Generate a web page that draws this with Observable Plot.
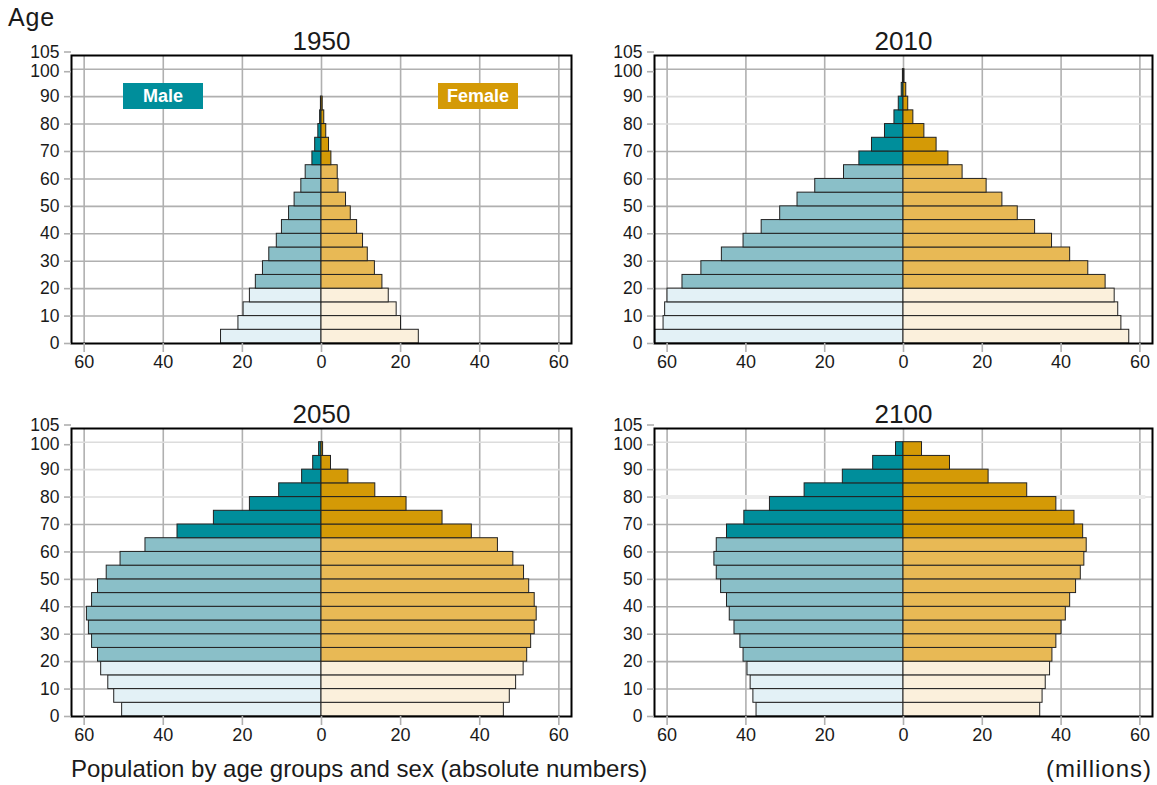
<!DOCTYPE html>
<html>
<head>
<meta charset="utf-8">
<script src="https://cdn.jsdelivr.net/npm/d3@7"></script>
<script src="https://cdn.jsdelivr.net/npm/@observablehq/plot@0.6"></script>
<style>
  html, body { margin: 0; padding: 0; background: #fff; }
  #root { position: relative; width: 1157px; height: 785px; overflow: hidden; font-family: "Liberation Sans", Arial, sans-serif; color: #1a1a1a; }
  .pan { position: absolute; }
  .txt { position: absolute; white-space: nowrap; }
  .leg { position: absolute; width: 80px; height: 26px; line-height: 26px; text-align: center; color: #fff; font-weight: bold; font-size: 18px; }
</style>
</head>
<body>
<div id="root">
  <div class="txt" style="left:8px; top:3px; font-size:25px; letter-spacing:0.8px;">Age</div>
  <div class="txt" style="left:71px; top:755px; font-size:24px;">Population by age groups and sex (absolute numbers)</div>
  <div class="txt" style="right:5px; top:755px; font-size:24px; letter-spacing:1px;">(millions)</div>
</div>
<script>
// Age group starts (5-year groups)
const ageStarts = [0,5,10,15,20,25,30,35,40,45,50,55,60,65,70,75,80,85,90,95];
const years = ["1950", "2010", "2050", "2100"];
const xTicks = [-60,-40,-20,0,20,40,60];
const yTicks = [0,10,20,30,40,50,60,70,80,90,100,105];
const sexLabels = ["Male", "Female"];

// Population in millions, by age group (0-4 ... 95-99)
const male1950   = [25.4,21.0,19.7,18.1,16.6,14.8,13.2,11.3,10.0,8.2,6.8,5.1,4.0,2.3,1.6,0.8,0.35,0.15,0,0];
const female1950 = [24.6,20.1,19.0,17.0,15.4,13.5,11.7,10.5,9.0,7.4,6.2,4.3,4.1,2.5,1.9,1.2,0.7,0.3,0,0];
const male2010   = [63.0,60.9,60.5,59.9,56.1,51.3,46.1,40.6,36.0,31.3,26.9,22.4,15.1,11.2,8.0,4.7,2.3,1.2,0.45,0.15];
const female2010 = [57.3,55.3,54.5,53.6,51.3,46.9,42.3,37.7,33.4,29.0,25.1,21.1,15.0,11.4,8.4,5.3,2.5,1.2,0.7,0.25];
const male2050   = [50.4,52.4,53.9,55.7,56.5,58.0,58.8,59.3,58.0,56.5,54.3,50.8,44.5,36.4,27.2,18.1,10.7,4.9,2.1,0.6];
const female2050 = [46.1,47.6,49.2,51.1,52.0,53.0,53.9,54.4,53.9,52.5,51.2,48.5,44.6,38.0,30.6,21.5,13.6,6.8,2.4,0.4];
const male2100   = [37.3,38.1,38.8,39.6,40.6,41.4,42.9,44.1,44.8,46.3,47.4,48.0,47.4,44.8,40.4,33.9,25.1,15.4,7.7,1.9];
const female2100 = [34.7,35.3,36.1,37.2,37.8,38.8,40.1,41.2,42.3,43.8,45.0,45.9,46.5,45.6,43.4,38.8,31.4,21.6,11.8,4.7];

const series = {
  "1950": [male1950, female1950],
  "2010": [male2010, female2010],
  "2050": [male2050, female2050],
  "2100": [male2100, female2100]
};

const palette = {
  Male:   {young: "#e3f1f6", mid: "#8abfc8", old: "#008e9b"},
  Female: {young: "#fbf0dc", mid: "#e8b955", old: "#d49a06"}
};
function shade(d) {
  const p = palette[d.sex];
  return d.age < 20 ? p.young : d.age < 65 ? p.mid : p.old;
}

const layout = {
  "1950": {left: 0,   top: 25,  width: 578, ml: 71, mr: 7, light: [], haze: []},
  "2010": {left: 578, top: 25,  width: 579, ml: 76, mr: 5, light: [80, 90], haze: []},
  "2050": {left: 0,   top: 398, width: 578, ml: 71, mr: 7, light: [80, 90, 100], haze: []},
  "2100": {left: 578, top: 398, width: 579, ml: 76, mr: 5, light: [80, 90, 100], haze: [80]}
};

const font = '"Liberation Sans", Arial, sans-serif';
const gridColor = "#b0b0b0";
const root = document.getElementById("root");
const axisStyle = {tickSize: 7, tickPadding: 5, stroke: gridColor, strokeWidth: 1.6, fill: "#1a1a1a", fontSize: 17.5, label: null};

for (const year of years) {
  const [m, f] = series[year];
  const L = layout[year];
  const data = [];
  ageStarts.forEach((a, i) => {
    if (m[i] > 0) data.push({age: a, sex: sexLabels[0], v: -m[i]});
    if (f[i] > 0) data.push({age: a, sex: sexLabels[1], v: f[i]});
  });
  const gridAges = yTicks.filter(t => t > 0 && t < 105);
  const chart = Plot.plot({
    width: L.width,
    height: 355,
    marginLeft: L.ml,
    marginRight: L.mr,
    marginTop: 30,
    marginBottom: 37,
    x: {domain: [-63.2, 63.2]},
    y: {domain: [0, 105]},
    color: {type: "identity"},
    style: {fontFamily: font, fontSize: "18px", color: "#1a1a1a", background: "transparent", overflow: "visible"},
    marks: [
      Plot.ruleX(xTicks, {stroke: gridColor, strokeWidth: 1.6}),
      Plot.ruleY(gridAges.filter(a => !L.light.includes(a)), {stroke: gridColor, strokeWidth: 1.6}),
      Plot.ruleY(L.light, {stroke: "#dcdcdc", strokeWidth: 1.6}),
      Plot.ruleY(L.haze, {x1: -61.5, x2: 61.5, stroke: "#ececec", strokeWidth: 4}),
      Plot.rect(data, {x1: 0, x2: "v", y1: "age", y2: d => d.age + 5, fill: shade, stroke: "#222", strokeWidth: 1}),
      Plot.frame({stroke: "#000", strokeWidth: 2}),
      Plot.axisX({ticks: xTicks, tickFormat: d => Math.abs(d), tickSize: 9, tickPadding: 3, stroke: gridColor, strokeWidth: 1.6, fill: "#1a1a1a", fontSize: 18, label: null}),
      Plot.axisY({...axisStyle, ticks: yTicks.filter(t => t < 100)}),
      Plot.axisY({...axisStyle, ticks: [100], dy: 2.5}),
      Plot.axisY({...axisStyle, ticks: [105], dy: -3.5}),
      Plot.text([year], {frameAnchor: "top", lineAnchor: "bottom", dy: -6, fontSize: 26, fill: "#1a1a1a"})
    ]
  });
  chart.classList.add("pan");
  chart.style.left = L.left + "px";
  chart.style.top = L.top + "px";
  root.appendChild(chart);
}

// Legend boxes (1950 panel)
const legM = document.createElement("div");
legM.className = "leg";
legM.style.left = "123px"; legM.style.top = "83px"; legM.style.background = palette.Male.old;
legM.textContent = sexLabels[0];
root.appendChild(legM);
const legF = document.createElement("div");
legF.className = "leg";
legF.style.left = "438px"; legF.style.top = "83px"; legF.style.background = palette.Female.old;
legF.textContent = sexLabels[1];
root.appendChild(legF);
</script>
</body>
</html>
